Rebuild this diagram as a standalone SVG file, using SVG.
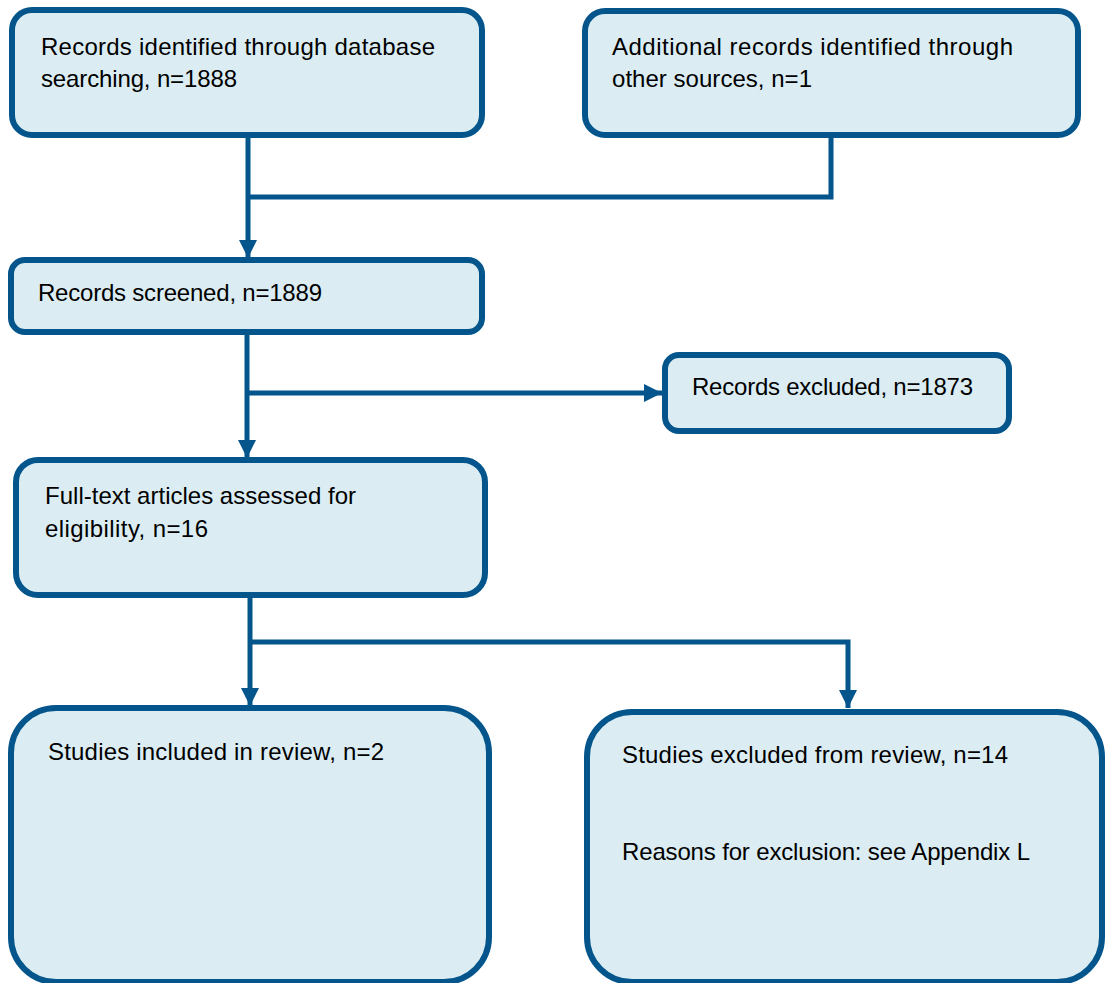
<svg xmlns="http://www.w3.org/2000/svg" width="1107" height="983" viewBox="0 0 1107 983">
<style>
.box{fill:#dbedf3;stroke:#03558b;stroke-width:6}
.lbl{font-family:"Liberation Sans",Arial,sans-serif;font-size:24px;fill:#000}
.conn{fill:none;stroke:#03558b;stroke-width:5}
</style>
<defs>
<marker id="ah" markerUnits="userSpaceOnUse" markerWidth="20" markerHeight="20" refX="18" refY="9" orient="auto">
<path d="M0,0 L18,9 L0,18 Z" fill="#03558b"/>
</marker>
</defs>
<rect width="1107" height="983" fill="#fff"/>
<g id="connectors">
<path class="conn" d="M248,138 V258" marker-end="url(#ah)"/>
<path class="conn" d="M831,137 V197 H248"/>
<path class="conn" d="M247,335 V458" marker-end="url(#ah)"/>
<path class="conn" d="M247,393 H662" marker-end="url(#ah)"/>
<path class="conn" d="M250,598 V706" marker-end="url(#ah)"/>
<path class="conn" d="M250,642 H848 V708" marker-end="url(#ah)"/>
</g>
<g id="n1">
<rect class="box" x="12" y="10" width="470" height="125" rx="20"/>
<text class="lbl" x="41" y="55" textLength="394">Records identified through database</text>
<text class="lbl" x="41" y="87" textLength="196">searching, n=1888</text>
</g>
<g id="n2">
<rect class="box" x="585" y="11" width="493" height="124" rx="20"/>
<text class="lbl" x="612" y="55" textLength="401">Additional records identified through</text>
<text class="lbl" x="612" y="87" textLength="200">other sources, n=1</text>
</g>
<g id="n3">
<rect class="box" x="11" y="260" width="471" height="72" rx="14"/>
<text class="lbl" x="38" y="301" textLength="284">Records screened, n=1889</text>
</g>
<g id="n4">
<rect class="box" x="665" y="355" width="344" height="76" rx="14"/>
<text class="lbl" x="692" y="395" textLength="281">Records excluded, n=1873</text>
</g>
<g id="n5">
<rect class="box" x="16" y="460" width="469" height="135" rx="22"/>
<text class="lbl" x="45" y="504" textLength="311">Full-text articles assessed for</text>
<text class="lbl" x="45" y="537" textLength="163">eligibility, n=16</text>
</g>
<g id="n6">
<rect class="box" x="11" y="708" width="478" height="274" rx="45"/>
<text class="lbl" x="48" y="760" textLength="336">Studies included in review, n=2</text>
</g>
<g id="n7">
<rect class="box" x="587" y="712" width="515" height="270" rx="45"/>
<text class="lbl" x="622" y="763" textLength="386">Studies excluded from review, n=14</text>
<text class="lbl" x="622" y="860" textLength="408">Reasons for exclusion: see Appendix L</text>
</g>
</svg>
